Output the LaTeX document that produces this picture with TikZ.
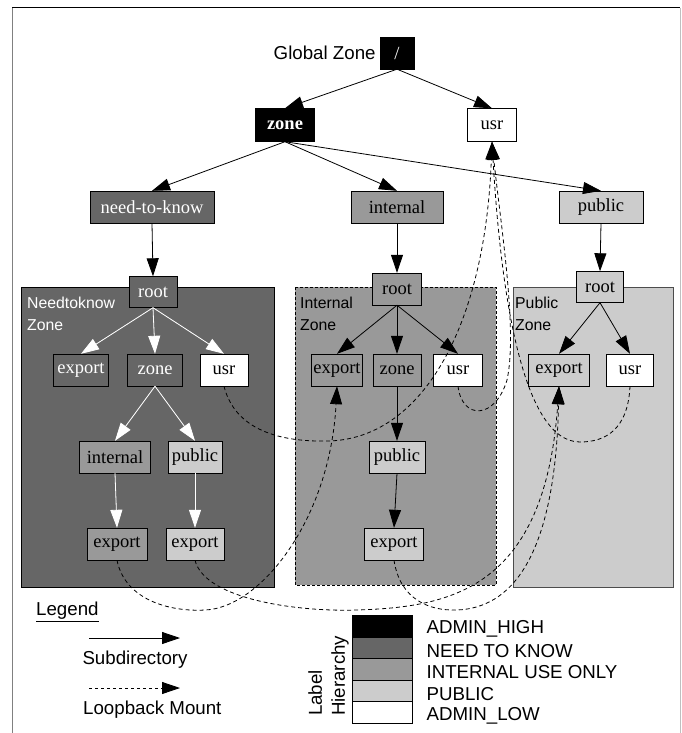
\documentclass[tikz,border=0pt]{standalone}
\usepackage{fontspec}
\setmainfont{Liberation Serif}
\setsansfont{Liberation Sans}
\usepackage{tikz}
\usetikzlibrary{arrows.meta, positioning}
\definecolor{ntkgray}{HTML}{666666}
\definecolor{intgray}{HTML}{999999}
\definecolor{pubgray}{HTML}{CCCCCC}
\newcommand{\dirfont}{\fontsize{18.5}{22}\selectfont}
\newcommand{\lblfont}{\sffamily\fontsize{18.7}{22}\selectfont}
\newcommand{\zonefont}{\sffamily\fontsize{15.8}{22}\selectfont}
\tikzstyle{dirbox} = [draw=black, rectangle, minimum height=32pt, inner xsep=2pt, inner ysep=0pt, font=\dirfont]
\tikzstyle{highdir} = [dirbox, fill=black, text=white]
\tikzstyle{ntkdir} = [dirbox, fill=ntkgray, text=white]
\tikzstyle{intdir} = [dirbox, fill=intgray]
\tikzstyle{pubdir} = [dirbox, fill=pubgray]
\tikzstyle{lowdir} = [dirbox, fill=white]
\tikzstyle{arrow} = [line width=0.8pt, -{Triangle[length=18pt,width=12pt]}]
\tikzstyle{warrow} = [arrow, draw=white, fill=white]
\tikzstyle{mount} = [line width=0.8pt, dash pattern=on 4pt off 3pt, -{Triangle[length=18pt,width=12pt]}]
\tikzstyle{zonelabel} = [font=\zonefont, align=left, anchor=north west, inner sep=0pt]

\begin{document}
\begin{tikzpicture}[x=1pt, y=-1pt]
    \useasboundingbox (0,0) rectangle (681,733);
    % frame
    \draw[black, line width=1pt] (12,8) -- (680,8);
    \draw[gray, line width=1pt] (12,8) -- (12,733);
    \draw[gray!50, line width=1pt] (680,8) -- (680,733);
    % zones
    \draw[fill=ntkgray, line width=0.8pt] (21,287) rectangle (274,587);
    \draw[fill=intgray, line width=0.8pt, dash pattern=on 3pt off 2pt] (295,287) rectangle (496,585);
    \draw[fill=pubgray, draw=black!70, line width=0.8pt] (513,287) rectangle (673,587);
    \node[zonelabel, text=white] (ntklbl) at (27,297) {Needtoknow\\Zone};
    \node[zonelabel] (intlbl) at (300,297) {Internal\\Zone};
    \node[zonelabel] (publbl) at (515,297) {Public\\Zone};

    % global zone
    \node[highdir, minimum width=34pt] (slash) at (397,53) {/};
    \node[left=4pt of slash, font=\lblfont, inner sep=0pt] (gzlbl) {Global Zone};
    \node[highdir, minimum width=59pt, minimum height=33pt, font=\dirfont\bfseries] (zone) at (285,125) {zone};
    \node[lowdir, minimum width=49pt, minimum height=33pt] (gusr) at (492,125) {usr};
    \node[ntkdir, minimum width=124pt] (ntk) at (152,207) {need-to-know};
    \node[intdir, minimum width=92pt] (intz) at (397,207) {internal};
    \node[pubdir, minimum width=84pt] (pubz) at (601,207) {public};
    \draw [arrow] (slash.south) -- (zone.north);
    \draw [arrow] (slash.south) -- (gusr.north);
    \draw [arrow] (zone.south) -- (ntk.north);
    \draw [arrow] (zone.south) -- (intz.north);
    \draw [arrow] (zone.south) -- (pubz.north);

    % needtoknow zone
    \node[ntkdir, minimum width=48pt, minimum height=31pt] (nroot) at (153,292) {root};
    \node[ntkdir, minimum width=55pt] (nexp) at (81,370) {export};
    \node[ntkdir, minimum width=55pt] (nzone) at (155,370) {zone};
    \node[lowdir, minimum width=48pt] (nusr) at (224,370) {usr};
    \node[intdir, minimum width=71pt] (nint) at (115,457) {internal};
    \node[pubdir, minimum width=54pt] (npub) at (195,457) {public};
    \node[intdir, minimum width=60pt] (nintexp) at (117,544) {export};
    \node[pubdir, minimum width=58pt] (npubexp) at (195,544) {export};
    \draw [arrow] (ntk.south) -- (nroot.north);
    \draw [warrow] (nroot.south) -- (nexp.north);
    \draw [warrow] (nroot.south) -- (nzone.north);
    \draw [warrow] (nroot.south) -- (nusr.north);
    \draw [warrow] (nzone.south) -- (nint.north);
    \draw [warrow] (nzone.south) -- (npub.north);
    \draw [warrow] (nint.south) -- (nintexp.north);
    \draw [warrow] (npub.south) -- (npubexp.north);

    % internal zone
    \node[intdir, minimum width=49pt] (iroot) at (397,289) {root};
    \node[intdir, minimum width=51pt] (iexp) at (337,370) {export};
    \node[intdir, minimum width=48pt] (izone) at (397,370) {zone};
    \node[lowdir, minimum width=49pt] (iusr) at (458,370) {usr};
    \node[pubdir, minimum width=56pt] (ipub) at (397,457) {public};
    \node[pubdir, minimum width=59pt] (ipubexp) at (394,544) {export};
    \draw [arrow] (intz.south) -- (iroot.north);
    \draw [arrow] (iroot.south) -- (iexp.north);
    \draw [arrow] (iroot.south) -- (izone.north);
    \draw [arrow] (iroot.south) -- (iusr.north);
    \draw [arrow] (izone.south) -- (ipub.north);
    \draw [arrow] (ipub.south) -- (ipubexp.north);

    % public zone
    \node[pubdir, minimum width=47pt, minimum height=31pt] (proot) at (600,287) {root};
    \node[pubdir, minimum width=61pt] (pexp) at (559,370) {export};
    \node[lowdir, minimum width=47pt] (pusr) at (630,370) {usr};
    \draw [arrow] (pubz.south) -- (proot.north);
    \draw [arrow] (proot.south) -- (pexp.north);
    \draw [arrow] (proot.south) -- (pusr.north);

    % loopback mounts
    \draw [mount] (nintexp.south) .. controls (125,600) and (170,612) .. (205,610)
        .. controls (260,608) and (330,520) .. (iexp.south);
    \draw [mount] (npubexp.south) .. controls (205,600) and (300,612) .. (357,610)
        .. controls (450,607) and (545,590) .. (pexp.south);
    \draw [mount] (ipubexp.south) .. controls (400,600) and (430,611) .. (457,610)
        .. controls (510,608) and (555,560) .. (pexp.south);
    \draw [mount] (nusr.south) .. controls (235,430) and (280,442) .. (327,441)
        .. controls (420,440) and (485,330) .. (gusr.south);
    \draw [mount] (iusr.south) .. controls (462,420) and (495,420) .. (507,380)
        .. controls (518,330) and (500,220) .. (gusr.south);
    \draw [mount] (pusr.south) .. controls (628,430) and (605,442) .. (580,442)
        .. controls (520,442) and (500,280) .. (gusr.south);

    % legend
    \node[font=\lblfont, anchor=west, inner sep=0pt] (legend) at (36,612) {\underline{Legend}};
    \coordinate (subA) at (89,638);
    \coordinate (subB) at (180,638);
    \draw [arrow] (subA) -- (subB);
    \node[font=\lblfont, inner sep=0pt] (sublbl) at (135,660) {Subdirectory};
    \coordinate (mntA) at (89,688);
    \coordinate (mntB) at (180,688);
    \draw [mount, dash pattern=on 3pt off 3pt] (mntA) -- (mntB);
    \node[font=\lblfont, anchor=west, inner sep=0pt] (mntlbl) at (83,710) {Loopback Mount};

    % label hierarchy
    \foreach \fillc/\lbl [count=\i] in {black/ADMIN\_HIGH, ntkgray/NEED TO KNOW, intgray/INTERNAL USE ONLY, pubgray/PUBLIC, white/ADMIN\_LOW} {
        \node[draw=black, fill=\fillc, minimum width=60pt, minimum height=21.6pt, inner sep=0pt, anchor=north west] (lvl\i) at (352,{615+21.6*(\i-1)}) {};
        \node[font=\lblfont, anchor=west, inner sep=0pt] (lvltxt\i) at ([xshift=14pt, yshift=-3pt]lvl\i.east) {\lbl};
    }
    \node[font=\sffamily\fontsize{18.7}{23}\selectfont, align=left, rotate=90, anchor=north west, inner sep=0pt] (hier) at (308,716) {Label\\Hierarchy};
\end{tikzpicture}
\end{document}
